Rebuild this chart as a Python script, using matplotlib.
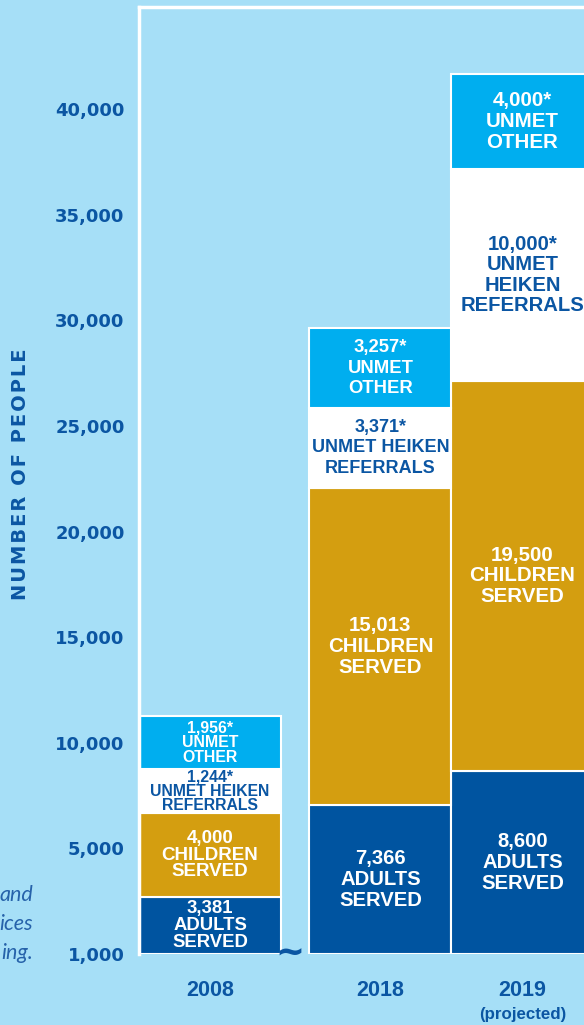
import matplotlib.pyplot as plt

years = ['2008', '2018', '2019']
adults = [3381, 7366, 8600]
children = [4000, 15013, 19500]
heiken = [1244, 3371, 10000]
other = [1956, 3257, 4000]

# segment heights as drawn in the graphic (it is not drawn to scale)
adults_h = [2710, 7050, 8660]
children_h = [3950, 15010, 18480]
heiken_h = [2100, 3790, 10020]
other_h = [2510, 3780, 4500]

ytick_vals = [0, 5000, 10000, 15000, 20000, 25000, 30000, 35000, 40000]
ytick_labels = ['1,000', '5,000', '10,000', '15,000', '20,000',
                '25,000', '30,000', '35,000', '40,000']

BG = '#a6dff7'
NAVY = '#0b56a3'
ADULT = '#0054a0'
CHILD = '#d49e10'
OTHER = '#00aeef'

x = [0, 1.2, 2.2]

fig = plt.figure(figsize=(5.84, 10.25), dpi=100, facecolor=BG)
ax = fig.add_axes([138.5 / 584, 71 / 1025, 445.5 / 584, 947 / 1025])
ax.set_facecolor(BG)

segments = [
    (adults_h, adults, ADULT, 'white', 'ADULTS\nSERVED', False),
    (children_h, children, CHILD, 'white', 'CHILDREN\nSERVED', False),
    (heiken_h, heiken, 'white', NAVY, None, True),
    (other_h, other, OTHER, 'white', 'UNMET\nOTHER', True),
]
heiken_text = ['UNMET HEIKEN\nREFERRALS', 'UNMET HEIKEN\nREFERRALS', 'UNMET\nHEIKEN\nREFERRALS']
sizes = [[13.3, 14.6, 14.6], [13.5, 14.7, 14.8], [11.3, 13.0, 14.6], [11.4, 13.3, 14.8]]
spacing = [[0.98, 1.12, 1.12], [0.98, 1.12, 1.12], [0.92, 1.25, 1.1], [0.98, 1.27, 1.12]]

bottom = [0, 0, 0]
for k, (h, vals, fc, tc, name, unmet) in enumerate(segments):
    ax.bar(x, h, width=1.0, bottom=bottom, color=fc, edgecolor='white',
           linewidth=1.5, zorder=2)
    for i in range(3):
        label = f'{vals[i]:,}' + ('*' if unmet else '')
        body = heiken_text[i] if name is None else name
        ax.text(x[i], bottom[i] + h[i] / 2, label + '\n' + body,
                ha='center', va='center', color=tc, fontsize=sizes[k][i],
                fontweight='bold', family='Liberation Sans',
                linespacing=spacing[k][i], zorder=3)
    bottom = [b + v for b, v in zip(bottom, h)]

ax.set_xlim(-0.504, 2.634)
ax.set_ylim(0, 44830)

ax.set_yticks(ytick_vals, ytick_labels)
ax.set_xticks(x, years)
ax.tick_params(axis='y', length=0, pad=10, labelcolor=NAVY, labelsize=13)
ax.tick_params(axis='x', length=0, pad=19, labelcolor=NAVY, labelsize=15.5)
for t in ax.get_yticklabels():
    t.set_fontweight('bold')
    t.set_family('DejaVu Sans')
for t in ax.get_xticklabels():
    t.set_fontweight('bold')
    t.set_family('Liberation Sans')

for s in ['right', 'bottom']:
    ax.spines[s].set_visible(False)
for s in ['left', 'top']:
    ax.spines[s].set_color('white')
    ax.spines[s].set_linewidth(2.5)

ax.text(2.2, -0.0635, '(projected)', transform=ax.get_xaxis_transform(),
        ha='center', va='center', color=NAVY, fontsize=12.2,
        fontweight='bold', family='Liberation Sans')

# break mark between 2008 and 2018
ax.text(0.563, 0, '~', ha='center', va='center', color=NAVY, fontsize=25,
        fontweight='bold', clip_on=False)

fig.text(21 / 584, 1 - 474 / 1025, '\u200a'.join('NUMBER OF PEOPLE'),
         rotation=90, ha='center', va='center', color=NAVY, fontsize=14,
         fontweight='bold', family='DejaVu Sans')

# cut-off text from the neighbouring column
for word, ypx in [('and', 901), ('ices', 930), ('ing.', 959)]:
    fig.text(33 / 584, 1 - ypx / 1025, word, ha='right', va='baseline',
             color='#2662aa', fontsize=15.5, style='italic', family='Lato')

fig.savefig('out.png', dpi=100, facecolor=BG)
